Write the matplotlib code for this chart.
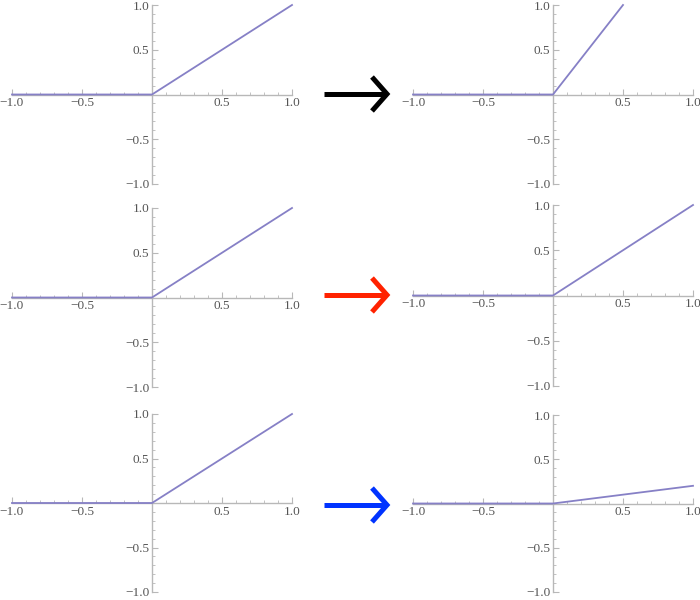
import matplotlib
matplotlib.use("Agg")
import matplotlib.pyplot as plt
from matplotlib.lines import Line2D
from matplotlib.ticker import MultipleLocator, FixedLocator, FuncFormatter

plt.rcParams['font.family'] = ['Liberation Serif', 'DejaVu Serif']

# data
relu_x = [-1.0, 0.0, 1.0]
relu_y = [0.0, 0.0, 1.0]
top_right_x = [-1.0, 0.0, 0.5]
top_right_y = [0.0, 0.0, 1.0]
mid_right_x = [-1.0, 0.0, 1.0]
mid_right_y = [0.0, 0.0, 1.0]
bot_right_x = [-1.0, 0.0, 1.0]
bot_right_y = [0.0, 0.0, 0.2]
tick_values = [-1.0, -0.5, 0.5, 1.0]
arrow_colors = ['#000000', '#ff2200', '#0033ff']

W, H = 700, 600
fig = plt.figure(figsize=(7, 6), dpi=100)

LINE_COLOR = '#8680c6'
AXIS_COLOR = '#b8b8b8'
LABEL_COLOR = '#555555'

def make_ax(x0, x1, ytop, ybot, xs, ys):
    ax = fig.add_axes([x0 / W, 1 - ybot / H, (x1 - x0) / W, (ybot - ytop) / H])
    ax.set_xlim(-1, 1)
    ax.set_ylim(-1, 1)
    ax.patch.set_alpha(0)
    for s in ['top', 'right']:
        ax.spines[s].set_visible(False)
    for s in ['left', 'bottom']:
        ax.spines[s].set_position(('data', 0))
        ax.spines[s].set_color(AXIS_COLOR)
        ax.spines[s].set_linewidth(1.0)
    ax.xaxis.set_major_locator(FixedLocator(tick_values))
    ax.yaxis.set_major_locator(FixedLocator(tick_values))
    ax.xaxis.set_minor_locator(MultipleLocator(0.1))
    ax.yaxis.set_minor_locator(MultipleLocator(0.1))
    fmt = FuncFormatter(lambda v, p: ('\u2212' if v < 0 else '') + f"{abs(v):.1f}")
    ax.xaxis.set_major_formatter(fmt)
    ax.yaxis.set_major_formatter(fmt)
    ax.tick_params(axis='x', which='major', direction='in', length=4, width=0.8,
                   color=AXIS_COLOR, labelsize=9.5, labelcolor=LABEL_COLOR, pad=2)
    ax.tick_params(axis='y', which='major', direction='in', length=4, width=0.8,
                   color=AXIS_COLOR, labelsize=9.5, labelcolor=LABEL_COLOR, pad=2)
    ax.tick_params(which='minor', direction='in', length=2, width=0.6, color=AXIS_COLOR)
    ax.plot(xs, ys, color=LINE_COLOR, lw=1.3, clip_on=False, zorder=5,
            solid_joinstyle='miter')
    return ax

make_ax(12, 292, 5, 184, relu_x, relu_y)
make_ax(413, 693, 5, 184, top_right_x, top_right_y)
make_ax(12, 292, 208, 387, relu_x, relu_y)
make_ax(413, 693, 205, 386, mid_right_x, mid_right_y)
make_ax(12, 292, 414, 592, relu_x, relu_y)
make_ax(413, 693, 415, 592, bot_right_x, bot_right_y)

# arrows
arrow_rows = [94, 295, 505]
for yc, col in zip(arrow_rows, arrow_colors):
    def P(x, y):
        return x / W, 1 - y / H
    sx, sy = zip(P(324, yc), P(386, yc))
    fig.add_artist(Line2D(sx, sy, color=col, lw=3.6, solid_capstyle='butt'))
    hx, hy = zip(P(372, yc - 17), P(387, yc), P(372, yc + 17))
    fig.add_artist(Line2D(hx, hy, color=col, lw=3.6, solid_joinstyle='miter',
                          solid_capstyle='butt'))

fig.savefig('out.png', dpi=100)
